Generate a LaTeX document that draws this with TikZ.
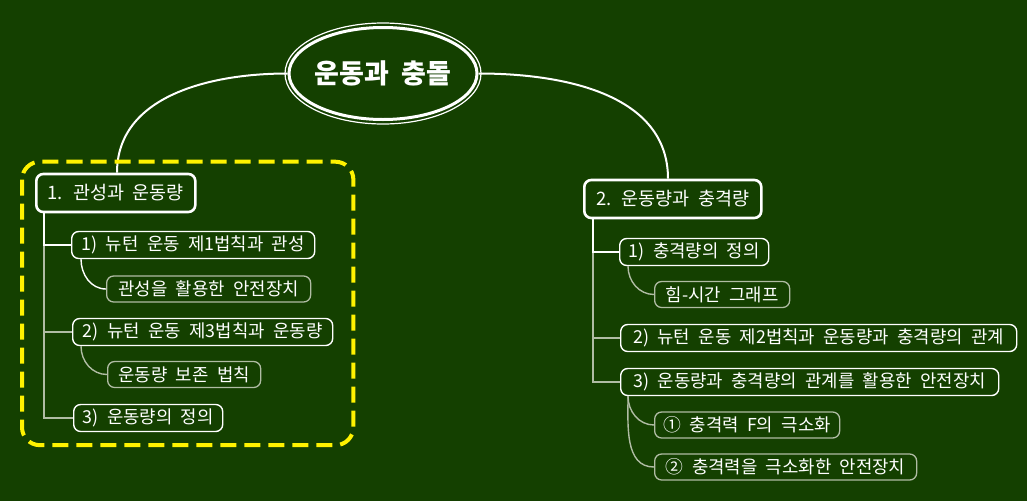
\documentclass[tikz,border=0pt]{standalone}
\usepackage{fontspec}
\setmainfont[WordSpace=2.1]{Noto Sans CJK KR}
\usetikzlibrary{positioning,calc,shapes.geometric,decorations.pathmorphing}
\definecolor{board}{RGB}{20,64,0}
\definecolor{chalk}{RGB}{255,255,255}
\definecolor{dimline}{RGB}{176,188,164}
\definecolor{marker}{RGB}{255,242,0}
\tikzset{
  % --- nodes -----------------------------------------------------------
  base/.style   ={rounded corners=7pt, draw=chalk, text=chalk, anchor=west,
                  inner sep=0pt, align=center},
  topic/.style  ={ellipse, draw=chalk, line width=3pt, text=chalk,
                  minimum width=188, minimum height=92, inner xsep=-6pt,
                  inner ysep=0pt, font=\fontsize{27}{31}\selectfont\bfseries},
  branch/.style ={base, line width=2.6pt, minimum height=38,
                  font=\fontsize{18.5}{21}\selectfont},
  item/.style   ={base, line width=1.4pt, minimum height=27,
                  font=\fontsize{17.8}{21}\selectfont},
  detail/.style ={base, draw=dimline, line width=1.3pt, minimum height=26,
                  font=\fontsize{17.8}{21}\selectfont},
  % --- connectors ------------------------------------------------------
  wire/.style   ={draw=chalk, line width=2pt},
  tick/.style   ={draw=chalk, line width=1.4pt},
  dimtick/.style={draw=dimline, line width=1.4pt},
  cloud/.style  ={draw=marker, line width=4pt, dash pattern=on 16pt off 8pt,
                  rounded corners=18pt},
}
\begin{document}
\begin{tikzpicture}[x=1pt,y=-1pt]
  \fill[board] (0,0) rectangle (1027,501);
  \useasboundingbox (0,0) rectangle (1027,501);

  % ===================== central topic =====================
  \node[topic] (root) at (383,73.5) {운동과 충돌};
  \draw[chalk, line width=1.2pt] (root.center) ellipse [x radius=98, y radius=50.5];

  % ===================== left branch =====================
  \node[branch, minimum width=159] (inertia) at (35,193) {1. 관성과 운동량};
  \node[item, minimum width=243] (law1) at (71,245) {1) 뉴턴 운동 제1법칙과 관성};
  \node[detail, minimum width=204] (safe1) at (106,289) {관성을 활용한 안전장치};
  \node[item, minimum width=260] (law3) at (72,332) {2) 뉴턴 운동 제3법칙과 운동량};
  \node[detail, minimum width=153] (conserve) at (107,374.5) {운동량 보존 법칙};
  \node[item, minimum width=149] (mdef) at (73,418) {3) 운동량의 정의};

  % ===================== right branch =====================
  \node[branch, minimum width=177] (impulse) at (583,199) {2. 운동량과 충격량};
  \node[item, minimum width=149] (idef) at (619,252) {1) 충격량의 정의};
  \node[detail, minimum width=135] (graph) at (654,294.5) {힘-시간 그래프};
  \node[item, minimum width=396] (law2) at (620,338) {2) 뉴턴 운동 제2법칙과 운동량과 충격량의 관계};
  \node[item, minimum width=378] (safe2) at (620,382) {3) 운동량과 충격량의 관계를 활용한 안전장치};
  \node[detail, minimum width=185] (force) at (654,425) {① 충격력 F의 극소화};
  \node[detail, minimum width=262] (device) at (654,467) {② 충격력을 극소화한 안전장치};

  % ===================== edges =====================
  \draw[wire] (root.west) to[out=180,in=90] ([xshift=82]inertia.north west);
  \draw[wire] (root.east) to[out=0,in=90] ([xshift=85]impulse.north west);
  % left tree
  \draw[dimtick] ([xshift=9]inertia.south west) |- (mdef.west);
  \draw[dimtick] ([xshift=9]inertia.south west) |- (law3.west);
  \draw[tick] ([xshift=9]inertia.south west) |- (law1.west);
  \draw[tick] ([xshift=10]law1.south west) to[out=-90,in=180] (safe1.west);
  \draw[dimtick] ([xshift=9]law3.south west) to[out=-90,in=180] (conserve.west);
  % right tree
  \draw[dimtick] ([xshift=10]impulse.south west) |- (safe2.west);
  \draw[dimtick] ([xshift=10]impulse.south west) |- (law2.west);
  \draw[tick] ([xshift=10]impulse.south west) |- (idef.west);
  \draw[dimtick] ([xshift=9]idef.south west) to[out=-90,in=180] (graph.west);
  \draw[dimtick] ([xshift=8]safe2.south west) to[out=-90,in=180] (force.west);
  \draw[dimtick] ([xshift=8]safe2.south west) to[out=-90,in=180] (device.west);

  % ===================== highlight =====================
  \draw[cloud] ($(inertia.north west)+(-13,-11)$) rectangle ($(mdef.south -| law3.east)+(20,13)$);

\end{tikzpicture}
\end{document}
